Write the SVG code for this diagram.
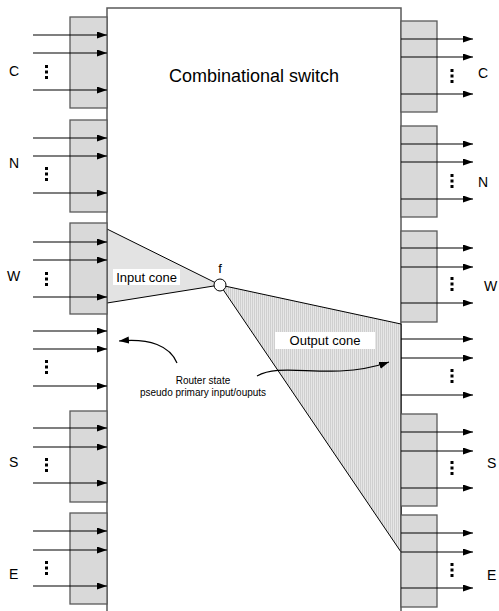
<svg xmlns="http://www.w3.org/2000/svg" width="499" height="611" viewBox="0 0 499 611">
<style>
.box{fill:#d9d9d9;stroke:#595959;stroke-width:1.3}
.main{fill:#fff;stroke:#595959;stroke-width:1.5}
.ar{stroke:#000;stroke-width:1.2;fill:none;marker-end:url(#ah)}
.dots{stroke:#000;stroke-width:3;stroke-dasharray:3 2.5}
.lbl{font-family:"Liberation Sans",Arial,sans-serif;font-size:14px;fill:#000}
.t{font-family:"Liberation Sans",Arial,sans-serif;fill:#000}
.cone{stroke:#000;stroke-width:1}
</style>
<defs>
<marker id="ah" markerUnits="userSpaceOnUse" markerWidth="11" markerHeight="8" refX="10" refY="3.5" orient="auto">
<path d="M0,0 L10,3.5 L0,7 z" fill="#000"/>
</marker>
<pattern id="hatch" patternUnits="userSpaceOnUse" width="2" height="4">
<rect width="2" height="4" fill="#e6e6e6"/>
<rect width="1" height="4" fill="#cfcfcf"/>
</pattern>
</defs>
<g id="switch">
<rect class="main" x="107" y="8" width="294" height="610"/>
<text class="t" x="254" y="82" font-size="18" text-anchor="middle">Combinational switch</text>
</g>
<g id="cones">
<polygon points="107,229 220,285 107,303" fill="#e3e3e3" class="cone"/>
<polygon points="220,285 401,324 401,552" fill="url(#hatch)" class="cone"/>
<circle cx="220" cy="285" r="6" fill="#fff" stroke="#000" stroke-width="1"/>
<text class="t" x="220" y="273" font-size="13" text-anchor="middle">f</text>
<rect x="113" y="269" width="67" height="16" fill="#fff"/>
<text class="t" x="146.5" y="282" font-size="13" text-anchor="middle">Input cone</text>
<rect x="275" y="332" width="100" height="17" fill="#fff"/>
<text class="t" x="325" y="345" font-size="13" text-anchor="middle">Output cone</text>
</g>
<g id="in-C">
<rect class="box" x="70" y="17" width="37" height="91"/>
<text class="lbl" x="9" y="76">C</text>
<line class="dots" x1="46.5" y1="65" x2="46.5" y2="79"/>
</g>
<g id="in-N">
<rect class="box" x="70" y="120" width="37" height="92"/>
<text class="lbl" x="9" y="168">N</text>
<line class="dots" x1="46.5" y1="167" x2="46.5" y2="181"/>
</g>
<g id="in-W">
<rect class="box" x="70" y="223" width="37" height="91"/>
<text class="lbl" x="7" y="281">W</text>
<line class="dots" x1="46.5" y1="272" x2="46.5" y2="286"/>
</g>
<g id="in-state">
<line class="dots" x1="46.5" y1="360" x2="46.5" y2="374"/>
</g>
<g id="in-S">
<rect class="box" x="70" y="411" width="37" height="91"/>
<text class="lbl" x="9" y="467">S</text>
<line class="dots" x1="46.5" y1="458" x2="46.5" y2="472"/>
</g>
<g id="in-E">
<rect class="box" x="70" y="513" width="37" height="91"/>
<text class="lbl" x="9" y="579">E</text>
<line class="dots" x1="46.5" y1="561" x2="46.5" y2="575"/>
</g>
<g id="out-C">
<rect class="box" x="401" y="21" width="36" height="91"/>
<text class="lbl" x="478" y="78">C</text>
<line class="dots" x1="452" y1="69" x2="452" y2="83"/>
</g>
<g id="out-N">
<rect class="box" x="401" y="126" width="36" height="91"/>
<text class="lbl" x="478" y="187">N</text>
<line class="dots" x1="452" y1="174" x2="452" y2="188"/>
</g>
<g id="out-W">
<rect class="box" x="401" y="231" width="36" height="91"/>
<text class="lbl" x="484" y="291">W</text>
<line class="dots" x1="452" y1="277" x2="452" y2="291"/>
</g>
<g id="out-state">
<line class="dots" x1="452" y1="369" x2="452" y2="383"/>
</g>
<g id="out-S">
<rect class="box" x="401" y="414" width="36" height="92"/>
<text class="lbl" x="487" y="468">S</text>
<line class="dots" x1="452" y1="461" x2="452" y2="475"/>
</g>
<g id="out-E">
<rect class="box" x="401" y="515" width="36" height="92"/>
<text class="lbl" x="487" y="580">E</text>
<line class="dots" x1="452" y1="563" x2="452" y2="577"/>
</g>
<g id="router-state">
<text class="t" font-size="10" text-anchor="middle"><tspan x="203" y="384">Router state</tspan><tspan x="203" y="396">pseudo primary input/ouputs</tspan></text>
</g>
<g id="connectors">
<line class="ar" x1="33" y1="35" x2="107" y2="35"/>
<line class="ar" x1="33" y1="53" x2="107" y2="53"/>
<line class="ar" x1="33" y1="90" x2="107" y2="90"/>
<line class="ar" x1="33" y1="138" x2="107" y2="138"/>
<line class="ar" x1="33" y1="156" x2="107" y2="156"/>
<line class="ar" x1="33" y1="193" x2="107" y2="193"/>
<line class="ar" x1="33" y1="242" x2="107" y2="242"/>
<line class="ar" x1="33" y1="260" x2="107" y2="260"/>
<line class="ar" x1="33" y1="297" x2="107" y2="297"/>
<line class="ar" x1="33" y1="331" x2="107" y2="331"/>
<line class="ar" x1="33" y1="349" x2="107" y2="349"/>
<line class="ar" x1="33" y1="386" x2="107" y2="386"/>
<line class="ar" x1="33" y1="428" x2="107" y2="428"/>
<line class="ar" x1="33" y1="447" x2="107" y2="447"/>
<line class="ar" x1="33" y1="483" x2="107" y2="483"/>
<line class="ar" x1="33" y1="531" x2="107" y2="531"/>
<line class="ar" x1="33" y1="550" x2="107" y2="550"/>
<line class="ar" x1="33" y1="586" x2="107" y2="586"/>
<line class="ar" x1="401" y1="39" x2="473" y2="39"/>
<line class="ar" x1="401" y1="57" x2="473" y2="57"/>
<line class="ar" x1="401" y1="94" x2="473" y2="94"/>
<line class="ar" x1="401" y1="144" x2="473" y2="144"/>
<line class="ar" x1="401" y1="162" x2="473" y2="162"/>
<line class="ar" x1="401" y1="199" x2="473" y2="199"/>
<line class="ar" x1="401" y1="248" x2="473" y2="248"/>
<line class="ar" x1="401" y1="267" x2="473" y2="267"/>
<line class="ar" x1="401" y1="303" x2="473" y2="303"/>
<line class="ar" x1="401" y1="339" x2="473" y2="339"/>
<line class="ar" x1="401" y1="358" x2="473" y2="358"/>
<line class="ar" x1="401" y1="395" x2="473" y2="395"/>
<line class="ar" x1="401" y1="432" x2="473" y2="432"/>
<line class="ar" x1="401" y1="451" x2="473" y2="451"/>
<line class="ar" x1="401" y1="488" x2="473" y2="488"/>
<line class="ar" x1="401" y1="533" x2="473" y2="533"/>
<line class="ar" x1="401" y1="552" x2="473" y2="552"/>
<line class="ar" x1="401" y1="588" x2="473" y2="588"/>
<path class="ar" d="M177,363 C170,346 150,338 119,341"/>
<path class="ar" d="M257,376 C275,366 300,372 340,371 C360,370 375,367 389,362"/>
</g>
</svg>
